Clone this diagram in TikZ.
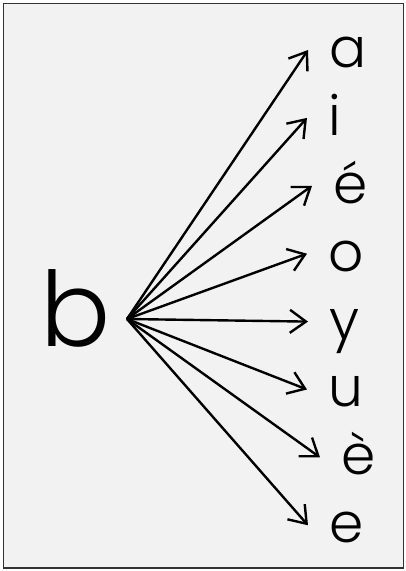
\documentclass[tikz,border=0pt]{standalone}
\usepackage{fontspec}
\setmainfont{Poppins Light}
\usetikzlibrary{arrows.meta,positioning}
\definecolor{panelgray}{HTML}{F2F2F2}
\definecolor{frameline}{HTML}{333333}
\tikzset{
  vowel/.style={inner xsep=21pt,inner ysep=0pt,anchor=west,text height=35pt,text depth=0pt,font=\fontsize{55}{55}\selectfont},
  fan/.style={-{Straight Barb[length=16pt,width=23pt]},line width=2.4pt}
}
\begin{document}
\begin{tikzpicture}[x=1pt,y=1pt]
\useasboundingbox (0,0) rectangle (406,571);
\path[fill=panelgray,draw=frameline,line width=1.5pt] (3.5,3) rectangle (403.5,567.5);
\node[anchor=base,inner sep=0pt,font=\fontsize{104}{104}\selectfont] (b) at (76,224) {b};
\coordinate (hub) at (127,252);
% tips sit just left of each vowel
\foreach \v/\x [count=\k] in {a/308,i/307,é/312,o/307,y/308,u/307,è/320,e/308}{
  \node[vowel] (v\k) at (\x,{571-50-67.9*(\k-1)}) {\v};
  \draw[fan] (hub) -- (v\k.west);
}
\end{tikzpicture}
\end{document}
